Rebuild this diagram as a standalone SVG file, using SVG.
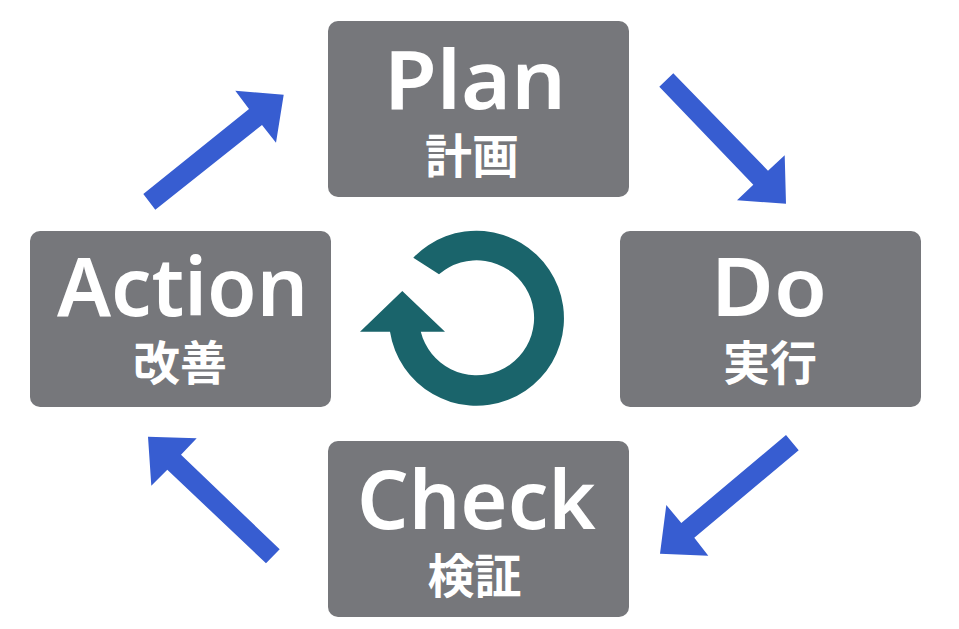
<svg xmlns="http://www.w3.org/2000/svg" width="959" height="629" viewBox="0 0 959 629">
<style>
.box{fill:#76777b}
.en{font-family:"Noto Sans","Open Sans",sans-serif;font-size:81px;font-weight:600;fill:#fff}
.ja{font-family:"Noto Sans CJK JP",sans-serif;font-size:47px;font-weight:700;fill:#fff;text-anchor:middle}
.arr{fill:#375dd1}
.cyc{fill:#1a646b}
</style>
<rect width="959" height="629" fill="#fff"/>
<g id="connectors">
<polygon class="arr" points="659.300,86.700 673.300,73.300 768,170.700 784.700,155.300 786,203.700 737,200.300 753.300,184.700"/>
<polygon class="arr" points="798.700,450.300 786,435 681.300,523 666.300,505 660,553.700 708.300,555.700 694.300,537.700"/>
<polygon class="arr" points="279.700,549.300 266,563.300 167.300,469.700 151.300,485.700 148,436.700 196.700,438.300 181,454.700"/>
<polygon class="arr" points="143.300,194 155.300,209.700 262,125 276,142.700 283.700,94.700 235.300,90.700 249,109"/>
</g>
<g id="plan"><rect class="box" x="328" y="21" width="301" height="176" rx="10"/><text class="en" x="384" y="108.500" textLength="182" lengthAdjust="spacingAndGlyphs">Plan</text><text class="ja" x="472" y="172.500">計画</text></g>
<g id="do"><rect class="box" x="620" y="231" width="301" height="176" rx="10"/><text class="en" x="711" y="316" textLength="116" lengthAdjust="spacingAndGlyphs">Do</text><text class="ja" x="770" y="380">実行</text></g>
<g id="check"><rect class="box" x="328" y="441" width="301" height="176" rx="10"/><text class="en" x="357" y="529.300" textLength="239" lengthAdjust="spacingAndGlyphs">Check</text><text class="ja" x="474.500" y="593">検証</text></g>
<g id="action"><rect class="box" x="30" y="231" width="301" height="176" rx="10"/><text class="en" x="57" y="316" textLength="251" lengthAdjust="spacingAndGlyphs">Action</text><text class="ja" x="180" y="380">改善</text></g>
<g id="cycle"><path class="cyc" d="M413.300 257.700A87.500 87.500 0 1 1 390 331.700H360L402.300 291L445 331.700H420.800A57.500 57.500 0 1 0 439 274.300Z"/></g>
</svg>
